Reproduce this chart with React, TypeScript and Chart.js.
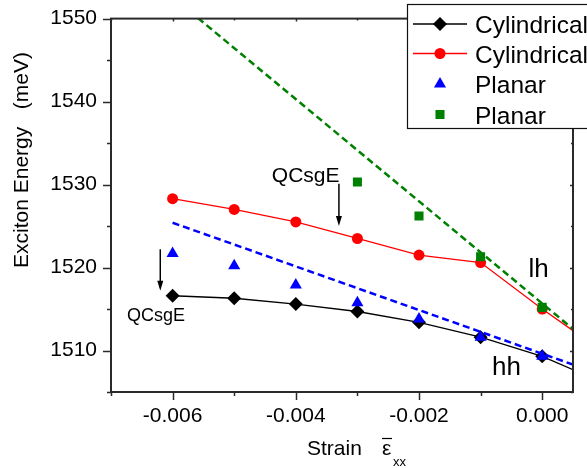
import React, { useEffect, useRef } from 'react';
import { Chart, registerables } from 'chart.js';

Chart.register(...registerables);

// ---- data ----
const strain = [-0.006, -0.005, -0.004, -0.003, -0.002, -0.001, 0.0];
const cylHH = [1516.6, 1516.3, 1515.6, 1514.7, 1513.4, 1511.6, 1509.3];
const cylLH = [1528.3, 1527.0, 1525.5, 1523.5, 1521.5, 1520.6, 1515.0];
const planarHH = [1521.7, 1520.2, 1517.9, 1515.75, 1513.8, 1511.6, 1509.3];
const planarLHStrain = [-0.003, -0.002, -0.001, 0.0];
const planarLH = [1530.3, 1526.2, 1521.3, 1515.2];
const lineEndStrain = 0.0005;
const cylHHEnd = 1507.7;
const cylLHEnd = 1512.4;
const fitStrain = [-0.006, 0.0005];
const planarHHFit = [1525.4, 1508.3];
const planarLHFit = [1552.6, 1512.6];
const legendLabels = ['Cylindrical', 'Cylindrical', 'Planar', 'Planar'];
const xRange = [-0.007, 0.0005];
const yRange = [1505, 1550];
const arrowNotes = [
  { x: -0.0033, y0: 1530.1, y1: 1525.0, label: 'QCsgE', lx: -0.00384, ly: 1530.3, size: 21 },
  { x: -0.0062, y0: 1522.2, y1: 1517.2, label: 'QCsgE', lx: -0.00627, ly: 1513.6, size: 18 },
];
const bandNotes = [
  { label: 'lh', x: -0.00006, y: 1518.8 },
  { label: 'hh', x: -0.00058, y: 1507.0 },
];

const FONT = "Arial, 'Liberation Sans', Helvetica, sans-serif";

const pts = (xs: number[], ys: number[]) => xs.map((x, i) => ({ x, y: ys[i] }));

function drawMarker(ctx: CanvasRenderingContext2D, style: string, x: number, y: number, r: number, color: string) {
  ctx.save();
  ctx.fillStyle = color;
  ctx.beginPath();
  if (style === 'rectRot') {
    ctx.moveTo(x, y - r); ctx.lineTo(x + r, y); ctx.lineTo(x, y + r); ctx.lineTo(x - r, y);
  } else if (style === 'circle') {
    ctx.arc(x, y, r, 0, Math.PI * 2);
  } else if (style === 'triangle') {
    ctx.moveTo(x, y - r);
    ctx.lineTo(x + r * Math.sin(Math.PI / 3), y + r / 2);
    ctx.lineTo(x - r * Math.sin(Math.PI / 3), y + r / 2);
  } else {
    const s = Math.SQRT1_2 * r;
    ctx.rect(x - s, y - s, 2 * s, 2 * s);
  }
  ctx.closePath();
  ctx.fill();
  ctx.restore();
}

const decor = {
  id: 'decor',
  afterDatasetsDraw(chart: any) {
    const { ctx, chartArea: a, scales } = chart;
    const xs = scales.x, ys = scales.y;
    ctx.save();
    // frame
    ctx.strokeStyle = '#2a2a2a';
    ctx.lineWidth = 2;
    ctx.strokeRect(a.left, a.top, a.right - a.left, a.bottom - a.top);
    // ticks
    ctx.lineWidth = 1.5;
    ctx.beginPath();
    xs.ticks.forEach((t: any) => {
      const v = t.value;
      const major = Math.round(v * 1000) % 2 === 0;
      const px = Math.round(xs.getPixelForValue(v)) + 0.5;
      ctx.moveTo(px, a.bottom); ctx.lineTo(px, a.bottom + (major ? 8 : 4));
      ctx.moveTo(px, a.top); ctx.lineTo(px, a.top + (major ? 3 : 2));
    });
    ys.ticks.forEach((t: any) => {
      const v = t.value;
      const major = Math.round(v) % 10 === 0;
      const py = Math.round(ys.getPixelForValue(v)) + 0.5;
      ctx.moveTo(a.left, py); ctx.lineTo(a.left - (major ? 8 : 4), py);
      ctx.moveTo(a.right, py); ctx.lineTo(a.right - (major ? 3 : 2), py);
    });
    ctx.stroke();

    ctx.fillStyle = '#000';
    ctx.strokeStyle = '#000';
    // arrows with labels
    arrowNotes.forEach((n) => {
      const x = xs.getPixelForValue(n.x);
      const y0 = ys.getPixelForValue(n.y0);
      const y1 = ys.getPixelForValue(n.y1);
      ctx.lineWidth = 1.5;
      ctx.beginPath();
      ctx.moveTo(x, y0); ctx.lineTo(x, y1 - 8);
      ctx.stroke();
      ctx.beginPath();
      ctx.moveTo(x, y1); ctx.lineTo(x - 3, y1 - 10); ctx.lineTo(x + 3, y1 - 10);
      ctx.closePath(); ctx.fill();
      ctx.font = `${n.size}px ${FONT}`;
      ctx.textAlign = 'center';
      ctx.textBaseline = 'alphabetic';
      ctx.fillText(n.label, xs.getPixelForValue(n.lx), ys.getPixelForValue(n.ly));
    });
    bandNotes.forEach((n) => {
      ctx.font = `26px ${FONT}`;
      ctx.textAlign = 'center';
      ctx.textBaseline = 'alphabetic';
      ctx.fillText(n.label, xs.getPixelForValue(n.x), ys.getPixelForValue(n.y));
    });

    // y title
    ctx.save();
    ctx.translate(28, 160);
    ctx.rotate(-Math.PI / 2);
    ctx.font = `21px ${FONT}`;
    ctx.textAlign = 'center';
    ctx.textBaseline = 'alphabetic';
    ctx.fillText('Exciton Energy   (meV)', 0, 0);
    ctx.restore();

    // x title
    ctx.font = `21px ${FONT}`;
    ctx.textAlign = 'left';
    ctx.textBaseline = 'alphabetic';
    ctx.fillText('Strain', 307, 455);
    ctx.fillText('\u03B5', 382, 455);
    ctx.lineWidth = 1.2;
    ctx.beginPath();
    ctx.moveTo(382, 438.5); ctx.lineTo(392, 438.5);
    ctx.stroke();
    ctx.font = `13px ${FONT}`;
    ctx.fillText('xx', 393, 466);
    ctx.restore();
  },
  afterDraw(chart: any) {
    const { ctx } = chart;
    ctx.save();
    ctx.fillStyle = '#fff';
    ctx.fillRect(407.5, 4.5, 200, 124);
    ctx.strokeStyle = '#111';
    ctx.lineWidth = 1.2;
    ctx.strokeRect(407.5, 4.5, 200, 124);
    const rows = [24, 53.5, 84, 114.5];
    chart.data.datasets.slice(0, 4).forEach((ds: any, i: number) => {
      const y = rows[i];
      if (ds.showLine) {
        ctx.strokeStyle = ds.borderColor;
        ctx.lineWidth = 1.3;
        ctx.beginPath();
        ctx.moveTo(413, y); ctx.lineTo(467, y);
        ctx.stroke();
      }
      drawMarker(ctx, ds.pointStyle, 440, y, ds.legendRadius, ds.backgroundColor);
      ctx.fillStyle = '#000';
      ctx.font = `24.5px ${FONT}`;
      ctx.textAlign = 'left';
      ctx.textBaseline = 'alphabetic';
      ctx.fillText(legendLabels[i], 475, y + 9);
    });
    ctx.restore();
  },
};

export default function App() {
  const ref = useRef<HTMLCanvasElement>(null);
  useEffect(() => {
    document.body.style.margin = '0';
    const n = strain.length;
    const chart = new Chart(ref.current!, {
      type: 'scatter',
      data: {
        datasets: [
          {
            label: legendLabels[0],
            data: [...pts(strain, cylHH), { x: lineEndStrain, y: cylHHEnd }],
            showLine: true,
            borderColor: '#000000',
            backgroundColor: '#000000',
            borderWidth: 1.3,
            pointStyle: 'rectRot',
            pointRadius: (c: any) => (c.dataIndex < n ? 7 : 0),
            pointBorderWidth: 0,
            legendRadius: 7,
            order: 5,
          } as any,
          {
            label: legendLabels[1],
            data: [...pts(strain, cylLH), { x: lineEndStrain, y: cylLHEnd }],
            showLine: true,
            borderColor: '#ff0000',
            backgroundColor: '#ff0000',
            borderWidth: 1.3,
            pointStyle: 'circle',
            pointRadius: (c: any) => (c.dataIndex < n ? 5.5 : 0),
            pointBorderWidth: 0,
            legendRadius: 5.5,
            order: 4,
          } as any,
          {
            label: legendLabels[2],
            data: pts(strain, planarHH),
            showLine: false,
            borderColor: '#0000ff',
            backgroundColor: '#0000ff',
            pointStyle: 'triangle',
            pointRadius: 7,
            pointBorderWidth: 0,
            legendRadius: 7,
            order: 1,
          } as any,
          {
            label: legendLabels[3],
            data: pts(planarLHStrain, planarLH),
            showLine: false,
            borderColor: '#008000',
            backgroundColor: '#008000',
            pointStyle: 'rect',
            pointRadius: 6.4,
            pointBorderWidth: 0,
            legendRadius: 6.4,
            order: 1,
          } as any,
          {
            label: 'planar hh fit',
            data: pts(fitStrain, planarHHFit),
            showLine: true,
            borderColor: '#0000ff',
            borderWidth: 2.5,
            borderDash: [7, 4],
            pointRadius: 0,
            order: 3,
          } as any,
          {
            label: 'planar lh fit',
            data: pts(fitStrain, planarLHFit),
            showLine: true,
            borderColor: '#008000',
            borderWidth: 2.5,
            borderDash: [7, 4],
            pointRadius: 0,
            order: 3,
          } as any,
        ],
      },
      options: {
        animation: false,
        responsive: false,
        devicePixelRatio: 1,
        layout: { padding: { left: 0, top: 17, right: 14, bottom: 0 } },
        plugins: { legend: { display: false }, tooltip: { enabled: false }, title: { display: false } },
        scales: {
          x: {
            type: 'linear',
            min: xRange[0],
            max: xRange[1],
            afterFit: (s: any) => { s.height = 76; },
            grid: { display: true, drawOnChartArea: false, drawTicks: true, tickLength: 8, color: 'rgba(0,0,0,0)' },
            border: { display: false },
            ticks: {
              stepSize: 0.001,
              includeBounds: false,
              padding: 4,
              color: '#000',
              font: { size: 21, family: FONT },
              maxRotation: 0,
              autoSkip: false,
              callback: (v: any) => (Math.round(Number(v) * 1000) % 2 === 0 ? Number(v).toFixed(3) : ''),
            },
          },
          y: {
            type: 'linear',
            min: yRange[0],
            max: yRange[1],
            afterFit: (s: any) => { s.width = 111; },
            grid: { display: true, drawOnChartArea: false, drawTicks: true, tickLength: 8, color: 'rgba(0,0,0,0)' },
            border: { display: false },
            ticks: {
              stepSize: 5,
              padding: 6,
              color: '#000',
              font: { size: 21, family: FONT },
              autoSkip: false,
              callback: (v: any) => (Math.round(Number(v)) % 10 === 0 ? String(Math.round(Number(v))) : ''),
            },
          },
        },
      } as any,
      plugins: [decor],
    });
    return () => chart.destroy();
  }, []);
  return <canvas ref={ref} width={587} height={468} style={{ display: 'block', width: 587, height: 468 }} />;
}
